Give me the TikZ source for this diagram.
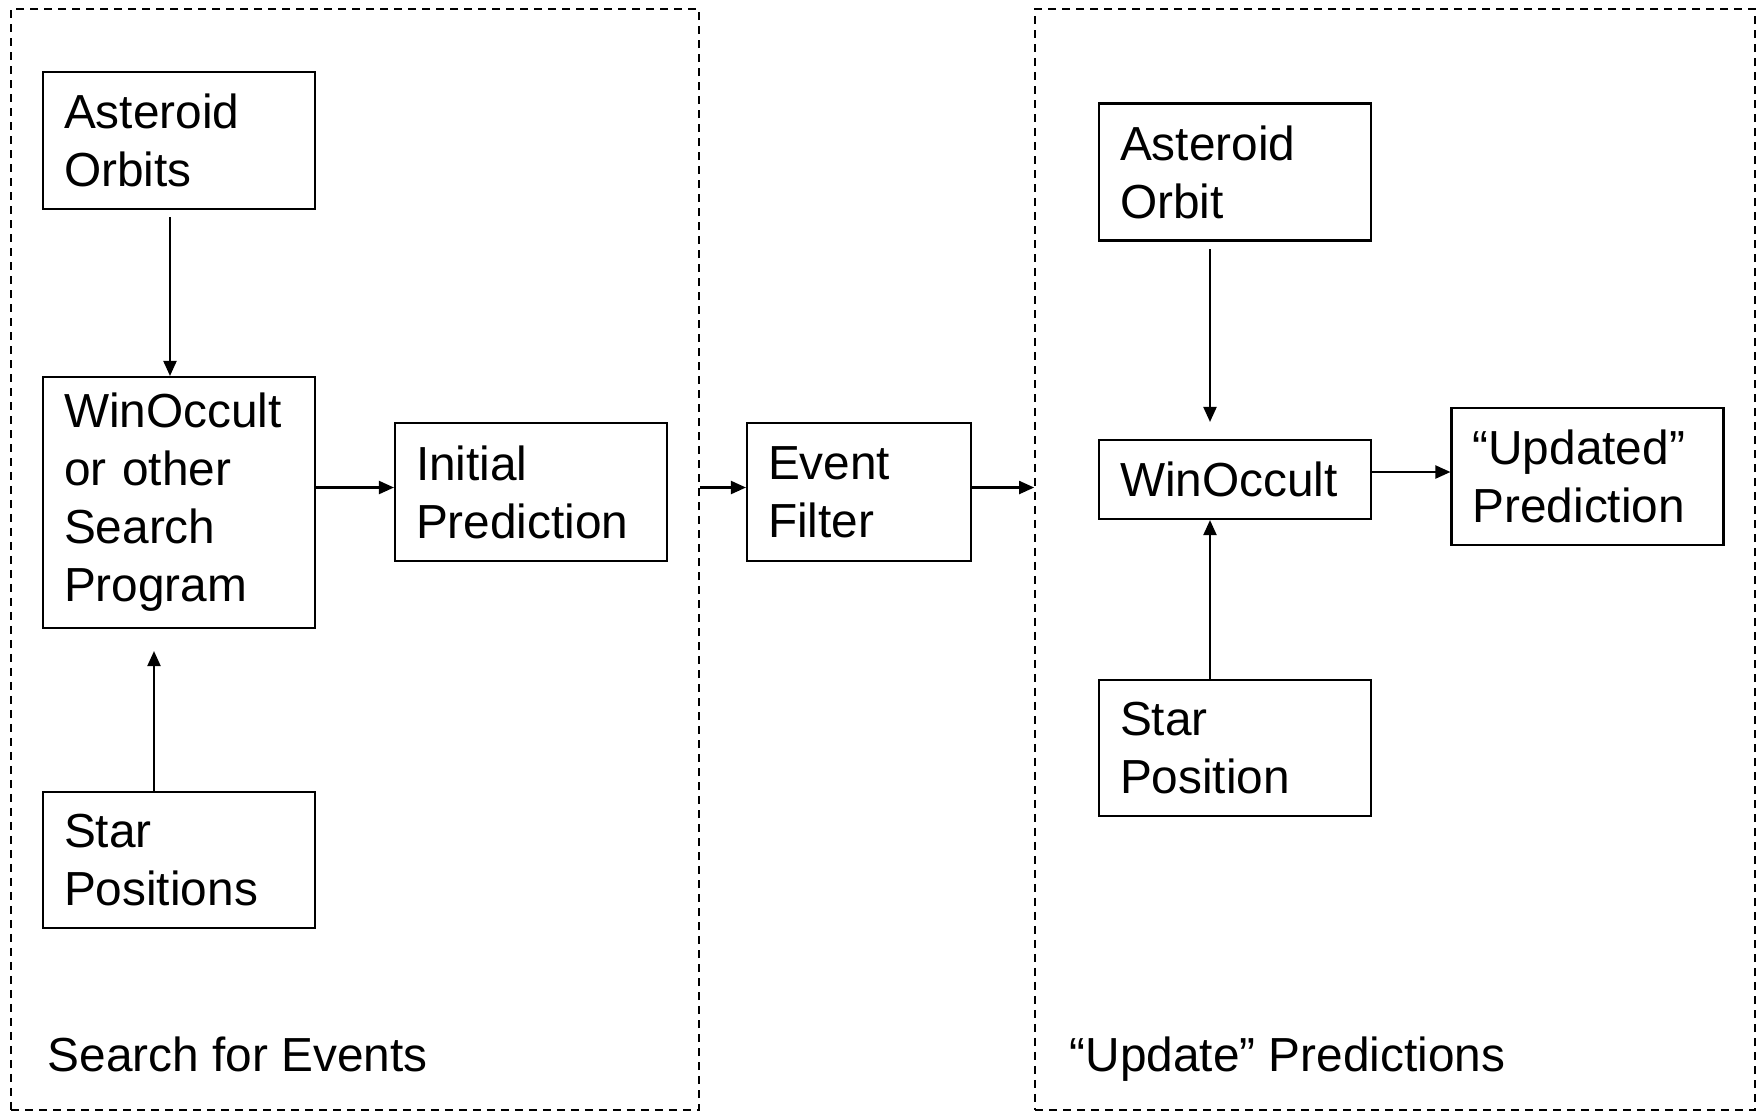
\documentclass[tikz,border=0pt]{standalone}
\usepackage{fontspec}
\setmainfont{Liberation Sans}
\usetikzlibrary{arrows.meta}
\newcommand{\boxfont}{\fontsize{13.6}{16.5}\selectfont}
\tikzset{
  box/.style={draw, line width=0.6pt, align=left, font=\boxfont,
    inner xsep=2.1mm, inner ysep=0pt, text width=#1},
  box/.default=23mm,
  region/.style={draw, line width=0.5pt, dash pattern=on 0.8mm off 0.6mm,
    inner sep=0pt},
  arr/.style={-{Triangle[length=1.5mm,width=1.3mm]}, line width=0.6pt},
  caption/.style={font=\boxfont, anchor=base west, inner sep=0pt}
}
\begin{document}
\begin{tikzpicture}[x=0.1mm,y=-0.1mm]
    \useasboundingbox (0,0) rectangle (1764,1112);
    % dashed regions
    \node[region, minimum width=68.8mm, minimum height=110.1mm] (searchreg) at (355,559.5) {};
    \node[region, minimum width=72mm, minimum height=110.1mm] (updatereg) at (1395,559.5) {};
    \node[caption] (searchlbl) at (47,1071) {Search for Events};
    \node[caption] (updatelbl) at (1069,1071) {“Update” Predictions};

    % search for events
    \node[box, minimum height=13.7mm] (orbits) at (179,140.5) {Asteroid\\Orbits};
    \node[box, minimum height=25.1mm] (search) at (179,502.5) {WinOccult\\or other\\Search\\Program};
    \node[box, minimum height=13.6mm] (stars) at (179,860) {Star\\Positions};
    \node[box, minimum height=13.8mm] (initial) at (531,492) {Initial\\Prediction};

    \node[box=18.2mm, minimum height=13.8mm] (filter) at (859,492) {Event\\Filter};

    % update predictions
    \node[box, minimum height=13.7mm] (orbit) at (1235,172) {Asteroid\\Orbit};
    \node[box, minimum height=7.9mm] (winocc) at (1235,479.5) {WinOccult};
    \node[box, minimum height=13.6mm] (star) at (1235,748) {Star\\Position};
    \node[box, minimum height=13.7mm] (updated) at (1587.5,476.5) {“Updated”\\Prediction};

    \draw[arr, shorten <=0.7mm] ([xshift=-0.9mm]orbits.south) -- ([xshift=-0.9mm]search.north);
    \draw[arr, shorten >=2.2mm] ([xshift=-2.5mm]stars.north) -- ([xshift=-2.5mm]search.south);
    \draw[arr] ([yshift=0.45mm]search.east |- initial.west) -- ([yshift=0.45mm]initial.west);
    \draw[arr] ([yshift=0.45mm]searchreg.east |- filter.west) -- ([yshift=0.45mm]filter.west);
    \draw[arr] ([yshift=0.45mm]filter.east) -- ([yshift=0.45mm]filter.east -| updatereg.west);

    \draw[arr, shorten <=0.75mm, shorten >=1.7mm] ([xshift=-2.5mm]orbit.south) -- ([xshift=-2.5mm]winocc.north);
    \draw[arr] ([xshift=-2.5mm]star.north) -- ([xshift=-2.5mm]winocc.south);
    \draw[arr] ([yshift=0.45mm]winocc.east |- updated.west) -- ([yshift=0.45mm]updated.west);
\end{tikzpicture}
\end{document}
